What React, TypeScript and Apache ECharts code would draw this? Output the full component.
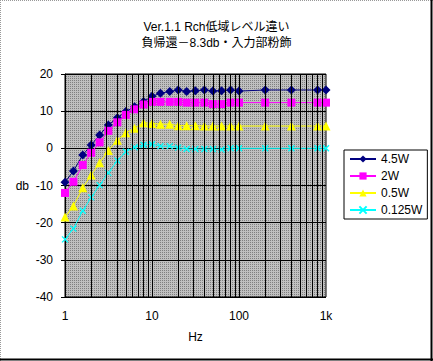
import React, { useEffect, useRef } from 'react';
import * as echarts from 'echarts';

const freqs = [1, 1.25, 1.6, 2, 2.5, 3.15, 4, 5, 6.3, 8, 10, 12.5, 16, 20, 25, 31.5, 40, 50, 63, 80, 100, 200, 400, 800, 1000];
const w45 = [-9.1, -6.1, -1.8, 0.9, 3.6, 6.3, 8.2, 9.9, 11.2, 12.6, 14.0, 14.8, 15.3, 15.7, 15.3, 15.5, 15.7, 15.4, 15.5, 15.7, 15.4, 15.7, 15.7, 15.7, 15.7];
const w2 = [-12.0, -9.0, -4.5, -1.2, 1.6, 4.7, 7.0, 9.0, 10.5, 11.8, 12.5, 12.5, 12.5, 12.5, 12.3, 12.3, 12.3, 11.9, 11.9, 12.3, 12.3, 12.3, 12.3, 12.3, 12.3];
const w05 = [-18.5, -15.5, -10.6, -7.2, -3.9, -0.6, 2.2, 4.2, 5.4, 6.9, 6.7, 6.5, 6.5, 6.1, 6.1, 6.1, 6.0, 6.0, 6.0, 6.0, 6.0, 6.0, 6.0, 6.0, 6.0];
const w0125 = [-24.5, -21.6, -16.8, -13.2, -9.9, -6.6, -3.3, -0.9, 0.3, 0.9, 1.1, 0.6, 0.6, 0.2, -0.2, -0.2, -0.2, -0.2, -0.3, 0.0, 0.0, 0.0, 0.0, 0.0, 0.0];
const seriesNames = ['4.5W', '2W', '0.5W', '0.125W'];
const xTickValues = [1, 10, 100, 1000];
const xTickLabels = ['1', '10', '100', '1k'];
const gridFreqs = [2, 3, 4, 5, 6, 7, 8, 9, 10, 20, 30, 40, 50, 60, 70, 80, 90, 100, 200, 300, 400, 500, 600, 700, 800, 900];
const titleLines = ['Ver.1.1 Rch低域レベル違い', '負帰還－8.3db・入力部粉飾'];

const FONT = "'Liberation Sans', 'Noto Sans CJK JP', sans-serif";

export default function App() {
  const ref = useRef<HTMLDivElement>(null);
  useEffect(() => {
    document.body.style.margin = '0';
    const chart = echarts.init(ref.current!, null, { renderer: 'svg' });
    const c = document.createElement('canvas');
    c.width = 2;
    c.height = 2;
    const ctx = c.getContext('2d')!;
    ctx.fillStyle = '#c0c0c0';
    ctx.fillRect(0, 0, 2, 2);
    ctx.fillStyle = '#808080';
    ctx.fillRect(0, 0, 1, 1);
    const pattern: any = { image: c.toDataURL(), repeat: 'repeat', imageWidth: 2, imageHeight: 2 };

    const mk = (name: string, vals: number[], color: string, symbol: string, size: number, extra: any = {}) => ({
      type: 'line',
      name,
      data: freqs.map((f, i) => [f, vals[i]]),
      symbol,
      symbolSize: size,
      showAllSymbol: true,
      z: 3,
      lineStyle: { color, width: 1 },
      itemStyle: { color, ...extra },
      emphasis: { disabled: true },
    });

    chart.setOption({
      animation: false,
      textStyle: { fontFamily: FONT },
      title: {
        text: titleLines.join('\n'),
        left: 'center',
        top: 14,
        textStyle: { fontSize: 12, fontWeight: 'normal', lineHeight: 16, color: '#000', fontFamily: FONT },
      },
      grid: {
        left: 65,
        top: 74,
        right: 107,
        bottom: 64,
        show: true,
        backgroundColor: pattern,
        borderColor: '#000',
        borderWidth: 1,
      },
      legend: {
        data: seriesNames,
        orient: 'vertical',
        left: 344,
        top: 150,
        padding: [3, 5],
        itemWidth: 26,
        itemHeight: 9,
        itemGap: 5,
        borderColor: '#000',
        borderWidth: 1,
        backgroundColor: '#fff',
        borderRadius: 0,
        textStyle: { fontSize: 12, color: '#000', fontFamily: FONT },
      },
      xAxis: {
        type: 'log',
        logBase: 10,
        min: 1,
        max: 1000,
        name: 'Hz',
        nameLocation: 'middle',
        nameGap: 34,
        nameTextStyle: { fontSize: 12, color: '#000', fontFamily: FONT },
        axisLine: { lineStyle: { color: '#000', width: 1 } },
        axisTick: { show: false },
        splitLine: { show: false },
        axisLabel: {
          color: '#000',
          fontSize: 12,
          margin: 13,
          fontFamily: FONT,
          formatter: (v: number) => {
            const i = xTickValues.findIndex((t) => Math.abs(t - v) < 1e-6);
            return i >= 0 ? xTickLabels[i] : '';
          },
        },
      },
      yAxis: {
        type: 'value',
        min: -40,
        max: 20,
        interval: 10,
        name: 'db',
        nameLocation: 'middle',
        nameRotate: 0,
        nameGap: 36,
        nameTextStyle: { fontSize: 12, color: '#000', fontFamily: FONT },
        axisLine: { show: true, lineStyle: { color: '#000', width: 1 } },
        axisTick: { show: true, length: 4, lineStyle: { color: '#000' } },
        splitLine: { show: true, lineStyle: { color: '#000', width: 1 } },
        axisLabel: { color: '#000', fontSize: 12, margin: 12, fontFamily: FONT },
      },
      graphic: [
        { type: 'line', shape: { x1: 0.5, y1: 0, x2: 0.5, y2: 361 }, style: { stroke: '#999', lineWidth: 1, lineDash: [1, 1] } },
        { type: 'line', shape: { x1: 0, y1: 0.5, x2: 433, y2: 0.5 }, style: { stroke: '#999', lineWidth: 1, lineDash: [1, 1] } },
        { type: 'line', shape: { x1: 431.5, y1: 0, x2: 431.5, y2: 361 }, style: { stroke: '#000', lineWidth: 2 } },
        { type: 'line', shape: { x1: 0, y1: 359.5, x2: 433, y2: 359.5 }, style: { stroke: '#000', lineWidth: 2 } },
      ],
      series: [
        {
          type: 'line',
          name: '_grid',
          data: [],
          silent: true,
          z: 1,
          markLine: {
            silent: true,
            symbol: ['none', 'none'],
            label: { show: false },
            lineStyle: { color: '#000', type: 'solid', width: 1 },
            emphasis: { disabled: true },
            data: gridFreqs.map((v) => ({ xAxis: v })),
          },
        },
        mk(seriesNames[0], w45, '#000080', 'diamond', 9),
        mk(seriesNames[1], w2, '#ff00ff', 'rect', 8),
        mk(seriesNames[2], w05, '#ffff00', 'triangle', 9),
        mk(seriesNames[3], w0125, '#00ffff', 'path://M0,0L8,8M8,0L0,8', 6, { borderColor: '#00ffff', borderWidth: 1.3 }),
      ],
    });
    return () => chart.dispose();
  }, []);
  return <div ref={ref} style={{ width: 433, height: 361 }} />;
}
